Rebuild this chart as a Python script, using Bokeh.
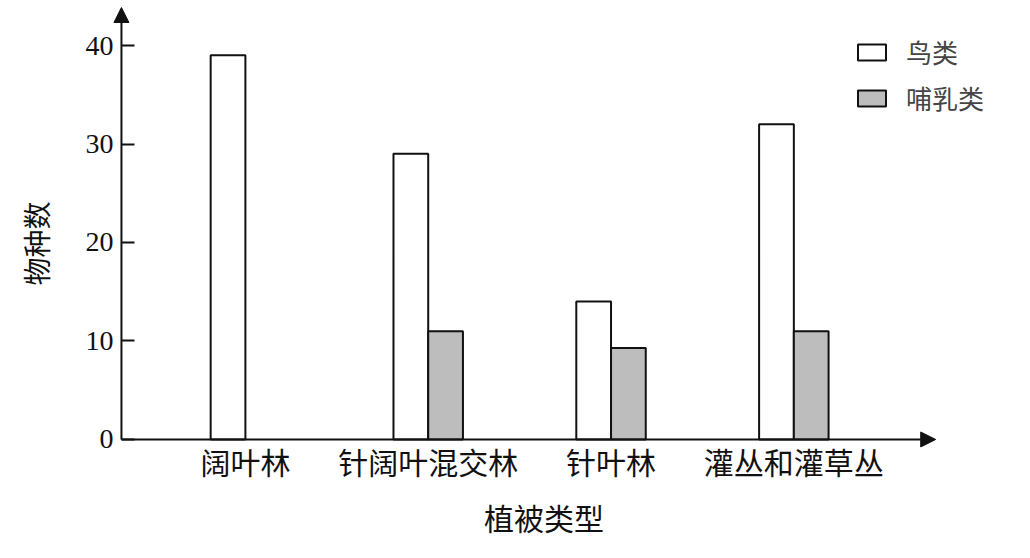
import numpy as np
from bokeh.plotting import figure
from bokeh.models import (Range1d, FixedTicker, Arrow, NormalHead, Legend, LegendItem,
                          Title, ColumnDataSource)
from bokeh.transform import dodge
from bokeh.embed import file_html
from bokeh.resources import INLINE

# ---- data ----
categories = ["阔叶林", "针阔叶混交林", "针叶林", "灌丛和灌草丛"]
birds = [39, 29, 14, 32]
mammals = [np.nan, 11, 9.3, 11]
y_ticks = [0, 10, 20, 30, 40]
series_names = ["鸟类", "哺乳类"]
x_title = "植被类型"
y_title = "物种数"

CJK = "Noto Sans CJK SC"
INK = "#111111"
BAR_W = 0.19
AX_X = -0.678          # where the y axis sits (data x)
X_TIP = 3.776          # x-axis arrow tip
Y_TIP = 43.86          # y-axis arrow tip
X0, X1 = -0.9403, 4.207
Y0, Y1 = -10.46, 44.57

xs = list(range(len(categories)))
src = ColumnDataSource(dict(x=xs, birds=np.array(birds, dtype=float),
                            mammals=np.array(mammals, dtype=float)))

p = figure(width=1014, height=542, x_range=Range1d(X0, X1), y_range=Range1d(Y0, Y1),
           output_backend="svg", toolbar_location=None,
           min_border_left=72, min_border_right=0, min_border_top=0, min_border_bottom=0)
p.outline_line_color = None
p.grid.visible = False
p.background_fill_color = "white"

r_b = p.vbar(x=dodge("x", -BAR_W / 2, range=p.x_range), top="birds", width=BAR_W, source=src,
             fill_color="white", line_color=INK, line_width=2)
r_m = p.vbar(x=dodge("x", BAR_W / 2, range=p.x_range), top="mammals", width=BAR_W, source=src,
             fill_color="#bdbdbd", line_color=INK, line_width=2)

# y axis
ya = p.yaxis[0]
ya.fixed_location = AX_X
ya.ticker = FixedTicker(ticks=y_ticks)
ya.major_tick_in = 13
ya.major_tick_out = 0
ya.minor_tick_in = 0
ya.minor_tick_out = 0
ya.axis_line_color = None
ya.major_tick_line_width = 2
ya.major_tick_line_color = INK
ya.major_label_text_font = "Liberation Serif"
ya.major_label_text_font_size = "28px"
ya.major_label_text_color = INK
ya.major_label_standoff = 8

# x axis
xa = p.xaxis[0]
xa.fixed_location = 0
xa.ticker = FixedTicker(ticks=xs)
xa.major_label_overrides = {i: c for i, c in enumerate(categories)}
xa.major_tick_in = 0
xa.major_tick_out = 0
xa.minor_tick_in = 0
xa.minor_tick_out = 0
xa.axis_line_color = None
xa.major_label_text_font = CJK
xa.major_label_text_font_size = "30px"
xa.major_label_text_color = INK
xa.major_label_standoff = 0
xa.axis_label = x_title
xa.axis_label_text_font = CJK
xa.axis_label_text_font_size = "30px"
xa.axis_label_text_font_style = "normal"
xa.axis_label_text_color = INK
xa.axis_label_standoff = 8

# axis lines with arrow heads
p.add_layout(Arrow(end=NormalHead(size=15, fill_color=INK, line_color=INK),
                   x_start=AX_X, y_start=0, x_end=AX_X, y_end=Y_TIP,
                   line_color=INK, line_width=2))
p.add_layout(Arrow(end=NormalHead(size=15, fill_color=INK, line_color=INK),
                   x_start=AX_X, y_start=0, x_end=X_TIP, y_end=0,
                   line_color=INK, line_width=2))

# y title
yt = Title(text=y_title, align="left", offset=257, text_font="Liberation Serif, Noto Sans CJK SC",
           text_font_size="28px", text_font_style="normal", text_color=INK, standoff=40)
p.add_layout(yt, "left")

legend = Legend(items=[LegendItem(label=series_names[0], renderers=[r_b]),
                       LegendItem(label=series_names[1], renderers=[r_m])],
                location=(781, 426), padding=0, spacing=9, glyph_width=35, glyph_height=20,
                label_text_font=CJK, label_text_font_size="26px", label_standoff=17,
                border_line_color=None, background_fill_alpha=0)
p.add_layout(legend)

open("out.html", "w").write(file_html(p, INLINE))
